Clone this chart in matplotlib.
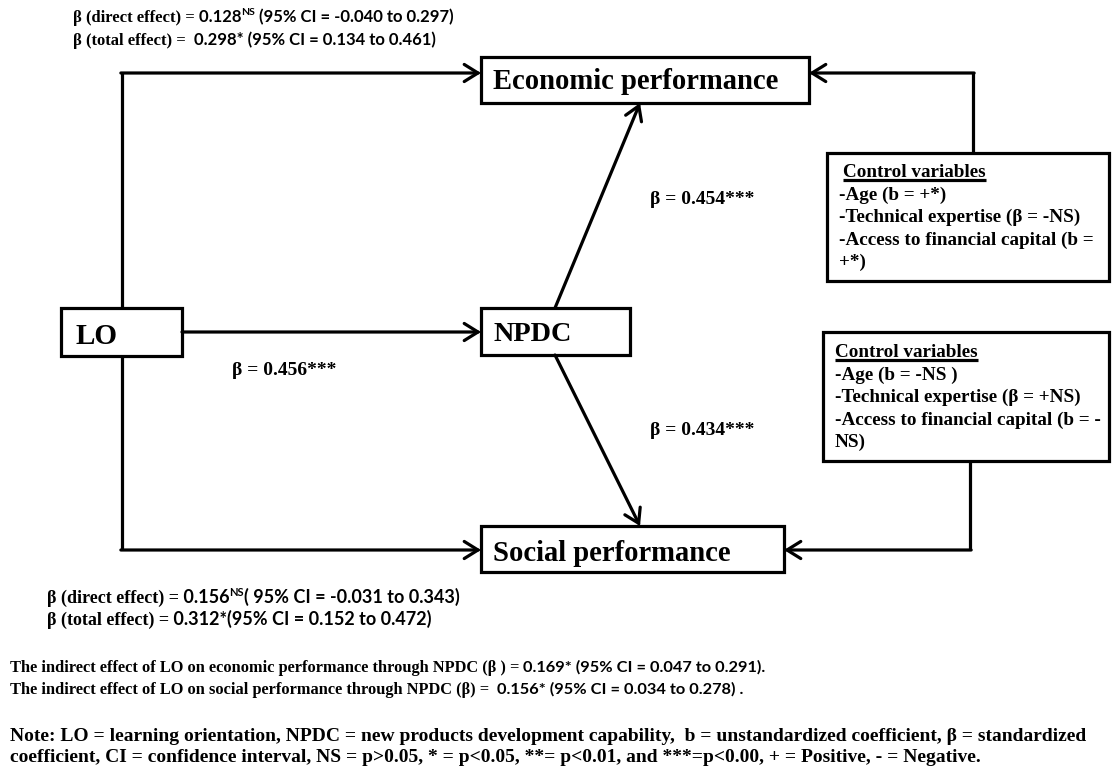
import matplotlib.pyplot as plt
from matplotlib.patches import Rectangle, FancyArrowPatch

SERIF = "Liberation Serif"
SANS = "Lato"

# model values
path_betas = [0.456, 0.454, 0.434]          # LO->NPDC, NPDC->Econ, NPDC->Social
econ_direct = [0.128, -0.040, 0.297]
econ_total = [0.298, 0.134, 0.461]
social_direct = [0.156, -0.031, 0.343]
social_total = [0.312, 0.152, 0.472]
indirect_econ = [0.169, 0.047, 0.291]
indirect_social = [0.156, 0.034, 0.278]

node_names = ["LO", "NPDC", "Economic performance", "Social performance"]
controls_econ = ["-Age (b = +*)", "-Technical expertise (\u03b2 = -NS)",
                 "-Access to financial capital (b =", "+*)"]
controls_social = ["-Age (b = -NS )", "-Technical expertise (\u03b2 = +NS)",
                   "-Access to financial capital (b = -", "NS)"]
note_lines = [
    "Note: LO = learning orientation, NPDC = new products development capability,  "
    "b = unstandardized coefficient, \u03b2 = standardized",
    "coefficient, CI = confidence interval, NS = p>0.05, * = p<0.05, **= p<0.01, "
    "and ***=p<0.00, + = Positive, - = Negative.",
]

fig = plt.figure(figsize=(11.12, 7.67), dpi=100)
ax = fig.add_axes([0, 0, 1, 1])
ax.set_xlim(0, 1112)
ax.set_ylim(767, 0)
ax.axis("off")
renderer = fig.canvas.get_renderer()
LW = 2.3


def box(x0, y0, x1, y1):
    ax.add_patch(Rectangle((x0, y0), x1 - x0, y1 - y0, fill=False,
                           lw=LW, ec="black", joinstyle="miter"))


def arrow(p0, p1):
    ax.add_patch(FancyArrowPatch(p0, p1, arrowstyle="->,head_length=0.45,head_width=0.28",
                                 mutation_scale=22, lw=LW, color="black",
                                 shrinkA=0, shrinkB=0, joinstyle="miter"))


def line(xs, ys):
    ax.plot(xs, ys, color="black", lw=LW, solid_joinstyle="miter", solid_capstyle="butt")


def run(x, y, pieces, size):
    # pieces of text laid one after another on the same baseline
    for p in pieces:
        s, fam = p[0], p[1]
        sup = len(p) > 2
        fs = size * 0.62 if sup else size
        yy = y - size * 0.55 if sup else y
        t = ax.text(x, yy, s, family=fam, weight="bold", fontsize=fs,
                    va="baseline", ha="left")
        bb = t.get_window_extent(renderer)
        x = ax.transData.inverted().transform((bb.x1, bb.y0))[0]
    return x


# boxes
lo = (61, 308, 182, 356)
npdc = (481, 308, 630, 355)
econ = (481, 57, 809, 103)
social = (481, 526, 784, 572)
ctrl1 = (827, 153, 1109, 281)
ctrl2 = (823, 332, 1109, 461)
for b in (lo, npdc, econ, social, ctrl1, ctrl2):
    box(*b)

ax.text(76, 344, node_names[0], family=SERIF, weight="bold", fontsize=21, va="baseline")
ax.text(493, 341, node_names[1], family=SERIF, weight="bold", fontsize=20.3, va="baseline")
ax.text(493, 89, node_names[2], family=SERIF, weight="bold", fontsize=20.6, va="baseline")
ax.text(493, 561, node_names[3], family=SERIF, weight="bold", fontsize=20.6, va="baseline")

# connectors
vx = 122
line([vx, vx], [73, lo[1]])
arrow((vx - LW / 2, 73), (econ[0], 73))
line([vx, vx], [lo[3], 550])
arrow((vx - LW / 2, 550), (social[0], 550))
arrow((lo[2], 332), (npdc[0], 332))
arrow((555, npdc[1]), (640, econ[3]))
arrow((555, npdc[3]), (640, social[1]))
line([973, 973], [ctrl1[1], 73])
arrow((973 + LW / 2, 73), (econ[2], 73))
line([970, 970], [ctrl2[3], 550])
arrow((970 + LW / 2, 550), (social[2], 550))

# path coefficients
ax.text(232, 375, f"\u03b2 = {path_betas[0]:.3f}***", family=SERIF, weight="bold",
        fontsize=14, va="baseline")
ax.text(650, 204, f"\u03b2 = {path_betas[1]:.3f}***", family=SERIF, weight="bold",
        fontsize=14, va="baseline")
ax.text(650, 435, f"\u03b2 = {path_betas[2]:.3f}***", family=SERIF, weight="bold",
        fontsize=14, va="baseline")

# control variables
def controls(x_head, x, y0, items):
    t = ax.text(x_head, y0, "Control variables", family=SERIF, weight="bold",
                fontsize=13.8, va="baseline")
    bb = t.get_window_extent(renderer)
    inv = ax.transData.inverted()
    xa = inv.transform((bb.x0, 0))[0]
    xb = inv.transform((bb.x1, 0))[0]
    line([xa, xb], [y0 + 3, y0 + 3])
    for i, s in enumerate(items):
        ax.text(x, y0 + 22.5 * (i + 1), s, family=SERIF, weight="bold",
                fontsize=13.8, va="baseline")

controls(843, 839, 177, controls_econ)
controls(835, 835, 357, controls_social)

# effects on economic performance
run(73, 22, [("\u03b2 (direct effect) =", SERIF), (f" {econ_direct[0]:.3f}", SANS),
             ("NS", SANS, True),
             (f" (95% CI = {econ_direct[1]:.3f} to {econ_direct[2]:.3f})", SANS)], 12)
run(73, 45, [("\u03b2 (total effect) =", SERIF),
             (f"  {econ_total[0]:.3f}* (95% CI = {econ_total[1]:.3f} to {econ_total[2]:.3f})", SANS)], 12)

# effects on social performance
run(47, 603, [("\u03b2 (direct effect) =", SERIF), (f" {social_direct[0]:.3f}", SANS),
              ("NS", SANS, True),
              (f"( 95% CI = {social_direct[1]:.3f} to {social_direct[2]:.3f})", SANS)], 13)
run(47, 625, [("\u03b2 (total effect) =", SERIF),
              (f" {social_total[0]:.3f}*(95% CI = {social_total[1]:.3f} to {social_total[2]:.3f})", SANS)], 13)

# indirect effects
run(10, 672, [("The indirect effect of LO on economic performance through NPDC (\u03b2 ) =", SERIF),
              (f" {indirect_econ[0]:.3f}* (95% CI = {indirect_econ[1]:.3f} to {indirect_econ[2]:.3f}).", SANS)], 11.8)
run(10, 694, [("The indirect effect of LO on social performance through NPDC (\u03b2) =", SERIF),
              (f"  {indirect_social[0]:.3f}* (95% CI = {indirect_social[1]:.3f} to {indirect_social[2]:.3f}) .", SANS)], 11.8)

for i, s in enumerate(note_lines):
    ax.text(10, 741 + 21 * i, s, family=SERIF, weight="bold", fontsize=14, va="baseline")

fig.savefig("out.png", dpi=100)
